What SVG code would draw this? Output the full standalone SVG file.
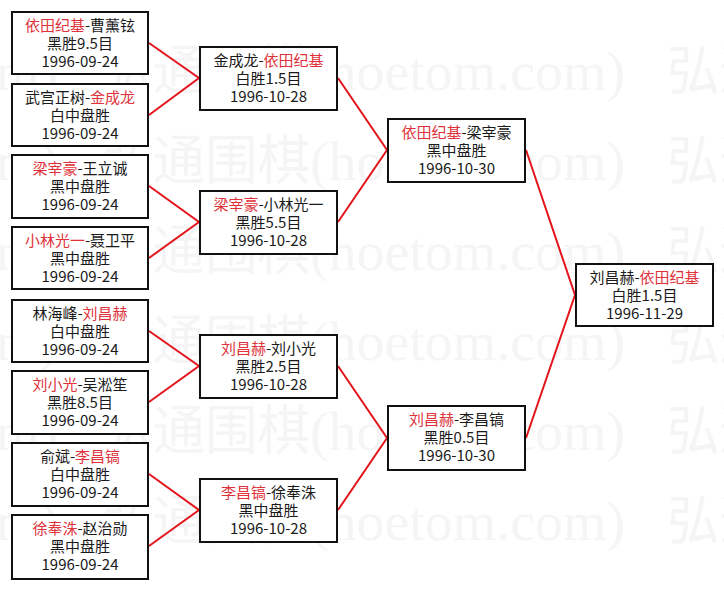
<svg xmlns="http://www.w3.org/2000/svg" width="724" height="589" viewBox="0 0 724 589">
<style>
.bx{fill:#fff;stroke:#111;stroke-width:2}
.t{font-family:"Noto Sans CJK SC","Noto Sans",sans-serif;font-size:15px;fill:#1a1a1a;text-anchor:middle}
.r{fill:#e0323a}
.ln{stroke:#e3141b;stroke-width:2;fill:none}
.wm{font-family:"Liberation Serif","Noto Sans CJK SC",serif;font-size:54px;fill:#f5f5f5}
</style>
<defs>
<g id="wmrow">
<text class="wm"><tspan x="-467" textLength="210" lengthAdjust="spacingAndGlyphs">弘通围棋</tspan><tspan x="-257" textLength="315" lengthAdjust="spacingAndGlyphs">(hoetom.com)</tspan><tspan x="100" textLength="210" lengthAdjust="spacingAndGlyphs">弘通围棋</tspan><tspan x="310" textLength="315" lengthAdjust="spacingAndGlyphs">(hoetom.com)</tspan><tspan x="667" textLength="210" lengthAdjust="spacingAndGlyphs">弘通围棋</tspan></text>
</g>
</defs>
<rect width="724" height="589" fill="#fff"/>
<g id="watermark">
<use href="#wmrow" y="90"/>
<use href="#wmrow" y="180"/>
<use href="#wmrow" y="270"/>
<use href="#wmrow" y="360"/>
<use href="#wmrow" y="450"/>
<use href="#wmrow" y="540"/>
</g>
<g id="connectors">
<path class="ln" d="M149 43L199 78L149 115"/>
<path class="ln" d="M149 186L199 222L149 258"/>
<path class="ln" d="M149 331L199 366L149 402"/>
<path class="ln" d="M149 474L199 510L149 546"/>
<path class="ln" d="M338 78L387 150L338 222"/>
<path class="ln" d="M338 366L387 438L338 510"/>
<path class="ln" d="M526 150L575 295L526 438"/>
</g>
<g id="r1a"><rect class="bx" x="12" y="12" width="136" height="62"/>
<text class="t" x="80" y="31"><tspan class="r">依田纪基</tspan>-曹薰铉<tspan x="80" dy="18">黑胜9.5目</tspan><tspan x="80" dy="18">1996-09-24</tspan></text></g>
<g id="r1b"><rect class="bx" x="12" y="84" width="136" height="62"/>
<text class="t" x="80" y="103">武宫正树-<tspan class="r">金成龙</tspan><tspan x="80" dy="18">白中盘胜</tspan><tspan x="80" dy="18">1996-09-24</tspan></text></g>
<g id="r1c"><rect class="bx" x="12" y="155" width="136" height="63"/>
<text class="t" x="80" y="174"><tspan class="r">梁宰豪</tspan>-王立诚<tspan x="80" dy="18">黑中盘胜</tspan><tspan x="80" dy="18">1996-09-24</tspan></text></g>
<g id="r1d"><rect class="bx" x="12" y="227" width="136" height="62"/>
<text class="t" x="80" y="246"><tspan class="r">小林光一</tspan>-聂卫平<tspan x="80" dy="18">黑中盘胜</tspan><tspan x="80" dy="18">1996-09-24</tspan></text></g>
<g id="r1e"><rect class="bx" x="12" y="300" width="136" height="62"/>
<text class="t" x="80" y="319">林海峰-<tspan class="r">刘昌赫</tspan><tspan x="80" dy="18">白中盘胜</tspan><tspan x="80" dy="18">1996-09-24</tspan></text></g>
<g id="r1f"><rect class="bx" x="12" y="371" width="136" height="63"/>
<text class="t" x="80" y="390"><tspan class="r">刘小光</tspan>-吴淞笙<tspan x="80" dy="18">黑胜8.5目</tspan><tspan x="80" dy="18">1996-09-24</tspan></text></g>
<g id="r1g"><rect class="bx" x="12" y="443" width="136" height="63"/>
<text class="t" x="80" y="462">俞斌-<tspan class="r">李昌镐</tspan><tspan x="80" dy="18">白中盘胜</tspan><tspan x="80" dy="18">1996-09-24</tspan></text></g>
<g id="r1h"><rect class="bx" x="12" y="515" width="136" height="64"/>
<text class="t" x="80" y="534"><tspan class="r">徐奉洙</tspan>-赵治勋<tspan x="80" dy="18">黑中盘胜</tspan><tspan x="80" dy="18">1996-09-24</tspan></text></g>
<g id="r2a"><rect class="bx" x="200" y="47" width="137" height="63"/>
<text class="t" x="268.5" y="66">金成龙-<tspan class="r">依田纪基</tspan><tspan x="268.5" dy="18">白胜1.5目</tspan><tspan x="268.5" dy="18">1996-10-28</tspan></text></g>
<g id="r2b"><rect class="bx" x="200" y="191" width="137" height="63"/>
<text class="t" x="268.5" y="210"><tspan class="r">梁宰豪</tspan>-小林光一<tspan x="268.5" dy="18">黑胜5.5目</tspan><tspan x="268.5" dy="18">1996-10-28</tspan></text></g>
<g id="r2c"><rect class="bx" x="200" y="335" width="137" height="63"/>
<text class="t" x="268.5" y="354"><tspan class="r">刘昌赫</tspan>-刘小光<tspan x="268.5" dy="18">黑胜2.5目</tspan><tspan x="268.5" dy="18">1996-10-28</tspan></text></g>
<g id="r2d"><rect class="bx" x="200" y="479" width="137" height="63"/>
<text class="t" x="268.5" y="498"><tspan class="r">李昌镐</tspan>-徐奉洙<tspan x="268.5" dy="18">黑中盘胜</tspan><tspan x="268.5" dy="18">1996-10-28</tspan></text></g>
<g id="r3a"><rect class="bx" x="388" y="119" width="137" height="63"/>
<text class="t" x="456.5" y="138"><tspan class="r">依田纪基</tspan>-梁宰豪<tspan x="456.5" dy="18">黑中盘胜</tspan><tspan x="456.5" dy="18">1996-10-30</tspan></text></g>
<g id="r3b"><rect class="bx" x="388" y="406" width="137" height="64"/>
<text class="t" x="456.5" y="425"><tspan class="r">刘昌赫</tspan>-李昌镐<tspan x="456.5" dy="18">黑胜0.5目</tspan><tspan x="456.5" dy="18">1996-10-30</tspan></text></g>
<g id="final"><rect class="bx" x="576" y="264" width="137" height="62"/>
<text class="t" x="644.5" y="283">刘昌赫-<tspan class="r">依田纪基</tspan><tspan x="644.5" dy="18">白胜1.5目</tspan><tspan x="644.5" dy="18">1996-11-29</tspan></text></g>
</svg>
